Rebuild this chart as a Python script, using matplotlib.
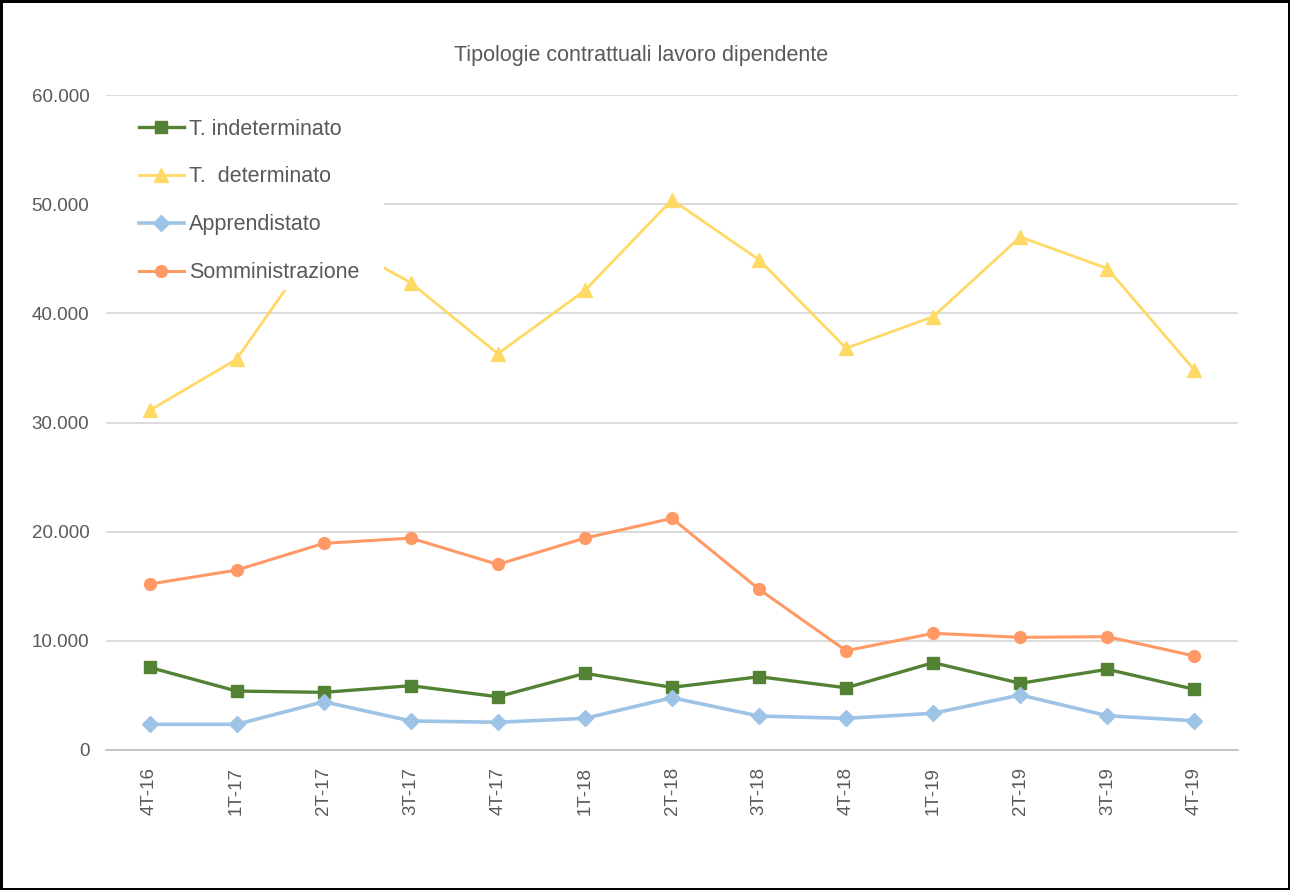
import matplotlib.pyplot as plt
import matplotlib.ticker as mticker
from matplotlib.patches import Rectangle
import numpy as np

plt.rcParams['font.family'] = ['Liberation Sans', 'DejaVu Sans']

trimestri = ["4T-16", "1T-17", "2T-17", "3T-17", "4T-17", "1T-18", "2T-18",
             "3T-18", "4T-18", "1T-19", "2T-19", "3T-19", "4T-19"]

indeterminato = [7570, 5400, 5280, 5890, 4880, 7020, 5740, 6710, 5700, 8000, 6110, 7390, 5560]
determinato = [31100, 35800, 47200, 42800, 36300, 42100, 50400, 44900, 36800, 39700, 47000, 44100, 34800]
apprendistato = [2350, 2350, 4420, 2660, 2540, 2900, 4790, 3110, 2900, 3360, 5040, 3140, 2680]
somministrazione = [15200, 16480, 18930, 19410, 17000, 19410, 21220, 14720, 9090, 10690, 10320, 10380, 8610]

series = [
    {"label": "T. indeterminato", "data": indeterminato, "color": "#548235", "marker": "s", "ms": 8.5, "lw": 2.4},
    {"label": "T.  determinato", "data": determinato, "color": "#FFD966", "marker": "^", "ms": 10, "lw": 2.0},
    {"label": "Apprendistato", "data": apprendistato, "color": "#9DC3E6", "marker": "D", "ms": 8, "lw": 2.6},
    {"label": "Somministrazione", "data": somministrazione, "color": "#FF9966", "marker": "o", "ms": 8.5, "lw": 2.2},
]

text_col = "#595959"

fig = plt.figure(figsize=(12.9, 8.9), dpi=100)
fig.patch.set_edgecolor("black")
fig.patch.set_linewidth(2.5)
ax = fig.add_axes([106 / 1290, 1 - 750 / 890, 1132 / 1290, 655 / 890])

x = np.arange(len(trimestri))
for s in series:
    ax.plot(x, s["data"], color=s["color"], marker=s["marker"], markersize=s["ms"],
            linewidth=s["lw"], label=s["label"], zorder=3)

ax.set_xlim(-0.5, len(trimestri) - 0.5)
ax.set_ylim(0, 60000)
ax.set_yticks(np.arange(0, 60001, 10000))
ax.yaxis.set_major_formatter(mticker.FuncFormatter(
    lambda v, p: "0" if v == 0 else f"{int(v):,}".replace(",", ".")))
ax.set_xticks(x)
ax.set_xticklabels(trimestri, rotation=90)

ax.grid(axis="y", color="#D9D9D9", linewidth=1.3, zorder=0)
ax.set_axisbelow(True)
for side in ["top", "right", "left"]:
    ax.spines[side].set_visible(False)
ax.spines["bottom"].set_color("#BFBFBF")
ax.spines["bottom"].set_linewidth(1.3)
ax.tick_params(axis="both", length=0, labelsize=13.5, colors=text_col)
ax.tick_params(axis="x", pad=12)
ax.tick_params(axis="y", pad=12)

# white box behind the legend, hiding the lines as in the original
ax.add_patch(Rectangle((0, 0.702), 0.2456, 0.286, transform=ax.transAxes,
                       facecolor="white", edgecolor="none", zorder=4))

leg = ax.legend(loc="upper left", bbox_to_anchor=(0.029, 0.964), fontsize=15.5,
                frameon=False, handlelength=2.1, handletextpad=0.25,
                labelspacing=1.25, borderpad=0, borderaxespad=0)
leg.set_zorder(5)
for t in leg.get_texts():
    t.set_color(text_col)

fig.text(0.497, 1 - 55 / 890, "Tipologie contrattuali lavoro dipendente",
         ha="center", va="center", fontsize=15.5, color=text_col)

fig.savefig("out.png", dpi=100, edgecolor=fig.get_edgecolor())
